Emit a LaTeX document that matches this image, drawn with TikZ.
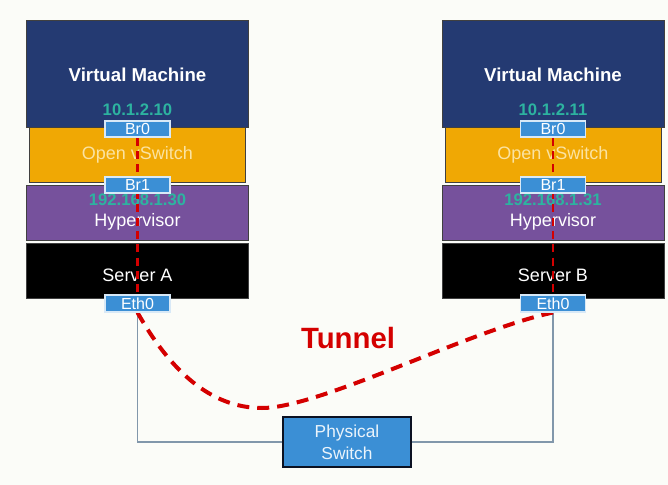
\documentclass[tikz,border=0pt]{standalone}
\usepackage{fontspec}
\setmainfont{Liberation Sans}
\usetikzlibrary{positioning}
\pgfdeclarelayer{front}
\pgfsetlayers{main,front}
\definecolor{vmblue}{HTML}{243A72}
\definecolor{ovsgold}{HTML}{F0A804}
\definecolor{hvpurple}{HTML}{76519C}
\definecolor{portblue}{HTML}{3B8FD5}
\definecolor{iptext}{HTML}{2DB3A0}
\definecolor{ovstext}{HTML}{FBE3A2}
\definecolor{wiregray}{HTML}{8197AB}
\definecolor{tunnelred}{HTML}{D40000}
\definecolor{paper}{HTML}{FBFCF8}
\begin{document}
\begin{tikzpicture}[x=0.75pt, y=-0.75pt,
    layer box/.style={draw=black!75, line width=0.6pt, minimum width=166.5pt, minimum height=41.25pt, inner sep=0pt},
    port/.style={fill=portblue, draw=white!80!portblue, line width=0.8pt, text=white, minimum width=48.75pt, minimum height=12pt, inner sep=0pt, font=\fontsize{12}{13}\selectfont},
    label text/.style={text=white, font=\fontsize{13.5}{15}\selectfont},
    ip text/.style={text=iptext, font=\bfseries\fontsize{12.5}{14}\selectfont},
    vline/.style={tunnelred, line width=2.2pt, dash pattern=on 6pt off 4pt},
    tunnel/.style={tunnelred, line width=3pt, dash pattern=on 9pt off 6pt},
    wire/.style={wiregray, line width=1.1pt}]

    \fill[paper] (0,0) rectangle (668,485);

    % server A
    \node[layer box, fill=vmblue, minimum height=80.25pt] at (137.5, 73.5) (vmA) {};
    \node[layer box, fill=ovsgold, minimum width=162pt] at (137.5, 154.5) (ovsA) {};
    \node[layer box, fill=hvpurple] at (137.5, 212.5) (hypA) {};
    \node[layer box, fill=black] at (137.5, 270.5) (srvA) {};
    \node[label text, font=\bfseries\fontsize{14}{16}\selectfont] at (137.5, 75) (vmtextA) {Virtual Machine};
    \node[ip text] at (137.5, 110) (ipvmA) {10.1.2.10};
    \node[label text, text=ovstext] at (137.5, 155) (ovstextA) {Open vSwitch};
    \node[ip text] at (137.5, 200) (iphypA) {192.168.1.30};
    \node[label text] at (137.5, 222) (hyptextA) {Hypervisor};
    \node[label text] at (137.5, 275) (srvtextA) {Server A};

    % server B
    \node[layer box, fill=vmblue, minimum height=80.25pt] at (553, 73.5) (vmB) {};
    \node[layer box, fill=ovsgold, minimum width=162pt] at (553, 154.5) (ovsB) {};
    \node[layer box, fill=hvpurple] at (553, 212.5) (hypB) {};
    \node[layer box, fill=black] at (553, 270.5) (srvB) {};
    \node[label text, font=\bfseries\fontsize{14}{16}\selectfont] at (553, 75) (vmtextB) {Virtual Machine};
    \node[ip text] at (553, 110) (ipvmB) {10.1.2.11};
    \node[label text, text=ovstext] at (553, 155) (ovstextB) {Open vSwitch};
    \node[ip text] at (553, 200) (iphypB) {192.168.1.31};
    \node[label text] at (553, 222) (hyptextB) {Hypervisor};
    \node[label text] at (553, 275) (srvtextB) {Server B};

    % ports
    \begin{pgfonlayer}{front}
        \node[port] at (137.5, 129) (br0A) {Br0};
        \node[port] at (137.5, 185) (br1A) {Br1};
        \node[port, minimum height=12.75pt] at (137.5, 303.5) (eth0A) {Eth0};
        \node[port] at (553, 129) (br0B) {Br0};
        \node[port] at (553, 185) (br1B) {Br1};
        \node[port, minimum height=12.75pt] at (553, 303.5) (eth0B) {Eth0};
    \end{pgfonlayer}

    \draw[vline] (br0A.south) -- (eth0A.north);
    \draw[vline] (br0B.south) -- (eth0B.north);

    % physical network
    \node[fill=portblue, draw=black!70!vmblue, line width=1.1pt, text=white!90!portblue, minimum width=96pt, minimum height=37.5pt, align=center, font=\fontsize{13}{16.5}\selectfont] at (347, 442) (switch) {Physical\\Switch};
    \draw[wire] (eth0A.south) |- (switch.west);
    \draw[wire] (eth0B.south) |- (switch.east);

    \draw[tunnel] (eth0A.south) .. controls (170, 370) and (210, 408) .. (262, 408) .. controls (320, 408) and (470, 330) .. (eth0B.south);
    \node[text=tunnelred, font=\bfseries\fontsize{22}{24}\selectfont] at (348, 338) (tunnellabel) {Tunnel};

\end{tikzpicture}
\end{document}
